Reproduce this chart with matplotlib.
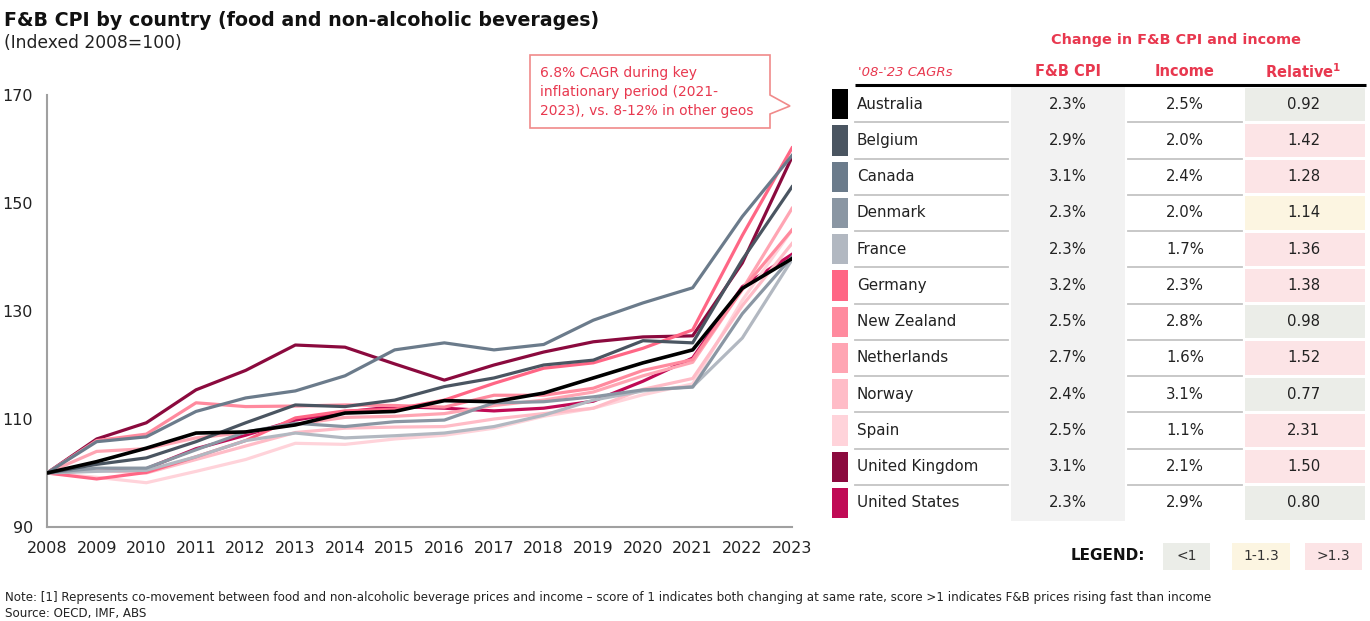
import matplotlib
matplotlib.use("Agg")
from matplotlib import pyplot as plt
from matplotlib.patches import Rectangle, Polygon

years = list(range(2008, 2024))

countries = ['Australia', 'Belgium', 'Canada', 'Denmark', 'France', 'Germany',
             'New Zealand', 'Netherlands', 'Norway', 'Spain', 'United Kingdom',
             'United States']
colors = ['#000000', '#4a5561', '#6b7b8b', '#8a96a3', '#b2b8c1', '#ff6685',
          '#ff8a9e', '#ffa5b3', '#ffbcc7', '#ffd3da', '#8b0a3e', '#c00a55']

# F&B CPI, indexed 2008 = 100
cpi = {
    'Australia':      [100, 102.1, 104.6, 107.4, 107.6, 108.9, 111.1, 111.4, 113.4, 113.2, 114.8, 117.6, 120.4, 122.8, 134.2, 139.7],
    'Belgium':        [100, 101.6, 102.8, 105.8, 109.3, 112.6, 112.3, 113.5, 116.0, 117.6, 120.0, 120.9, 124.5, 124.1, 139.5, 153.0],
    'Canada':         [100, 105.8, 106.7, 111.4, 113.9, 115.2, 118.0, 122.8, 124.1, 122.8, 123.8, 128.3, 131.5, 134.3, 147.5, 158.8],
    'Denmark':        [100, 100.9, 100.9, 104.3, 107.6, 109.2, 108.6, 109.5, 109.8, 113.0, 113.2, 114.1, 115.4, 115.9, 129.5, 140.0],
    'France':         [100, 100.3, 100.5, 103.0, 106.0, 107.4, 106.5, 106.9, 107.4, 108.6, 110.7, 113.5, 115.2, 116.0, 125.0, 139.5],
    'Germany':        [100, 98.9, 100.1, 103.0, 106.0, 110.2, 111.5, 111.8, 113.5, 116.6, 119.4, 120.4, 123.1, 126.5, 144.0, 160.2],
    'New Zealand':    [100, 106.0, 107.2, 113.0, 112.3, 112.4, 112.6, 112.5, 112.2, 114.4, 114.4, 115.7, 119.0, 121.0, 134.0, 145.0],
    'Netherlands':    [100, 104.0, 104.5, 106.5, 107.5, 109.0, 110.3, 110.5, 111.0, 112.5, 113.5, 115.0, 118.0, 120.5, 134.0, 149.0],
    'Norway':         [100, 100.5, 100.0, 102.5, 105.0, 107.5, 108.3, 108.5, 108.6, 110.0, 111.0, 112.0, 115.5, 117.5, 131.0, 142.5],
    'Spain':          [100, 99.2, 98.2, 100.3, 102.5, 105.5, 105.3, 106.3, 107.0, 108.3, 110.5, 112.0, 114.5, 116.5, 132.0, 145.0],
    'United Kingdom': [100, 106.3, 109.3, 115.4, 119.0, 123.7, 123.3, 120.2, 117.2, 120.0, 122.4, 124.3, 125.2, 125.4, 138.9, 158.5],
    'United States':  [100, 100.5, 100.8, 104.5, 107.0, 109.8, 111.3, 112.3, 112.0, 111.5, 112.0, 113.3, 117.0, 121.3, 134.5, 140.5],
}

# '08-'23 CAGRs
fb_cpi = [2.3, 2.9, 3.1, 2.3, 2.3, 3.2, 2.5, 2.7, 2.4, 2.5, 3.1, 2.3]
income = [2.5, 2.0, 2.4, 2.0, 1.7, 2.3, 2.8, 1.6, 3.1, 1.1, 2.1, 2.9]
relative = [0.92, 1.42, 1.28, 1.14, 1.36, 1.38, 0.98, 1.52, 0.77, 2.31, 1.50, 0.80]
rel_band = ['<1', '>1.3', '>1.3', '1-1.3', '>1.3', '>1.3', '<1', '>1.3', '<1', '>1.3', '>1.3', '<1']
band_labels = ['<1', '1-1.3', '>1.3']
band_colors = {'<1': '#ebede8', '1-1.3': '#fcf5e1', '>1.3': '#fce4e6'}

RED = '#e8384f'
W, H = 1370, 621

fig = plt.figure(figsize=(13.7, 6.21), dpi=100)

# line chart
ax = fig.add_axes([47 / W, 1 - 527 / H, (792 - 47) / W, (527 - 95) / H])
for i in reversed(range(len(countries))):
    c = countries[i]
    ax.plot(years, cpi[c], color=colors[i], lw=2.3 if c != 'Australia' else 2.6,
            solid_joinstyle='round', zorder=3 if c == 'Australia' else 2)
ax.set_xlim(2008, 2023)
ax.set_ylim(90, 170)
ax.set_xticks(years)
ax.set_yticks([90, 110, 130, 150, 170])
ax.tick_params(length=0, labelsize=11.5, colors='#222222')
ax.tick_params(axis='x', pad=10)
ax.tick_params(axis='y', pad=10)
for s in ['top', 'right']:
    ax.spines[s].set_visible(False)
for s in ['left', 'bottom']:
    ax.spines[s].set_color('#a0a0a0')
    ax.spines[s].set_linewidth(1.5)

# overlay in pixel units for titles, callout and table
ov = fig.add_axes([0, 0, 1, 1], zorder=5)
ov.set_xlim(0, W)
ov.set_ylim(H, 0)
ov.axis('off')
ov.patch.set_alpha(0)

ov.text(4, 20, 'F&B CPI by country (food and non-alcoholic beverages)',
        fontsize=13.7, fontweight='bold', va='center', ha='left', color='#111111')
ov.text(4, 43, '(Indexed 2008=100)', fontsize=12.3, va='center', ha='left', color='#222222')

callout = Polygon([(530, 55), (770, 55), (770, 95), (790, 106), (770, 114),
                   (770, 128), (530, 128)], closed=True, facecolor='white',
                  edgecolor='#f08a8a', lw=1.2)
ov.add_patch(callout)
for k, line in enumerate(['6.8% CAGR during key', 'inflationary period (2021-',
                          '2023), vs. 8-12% in other geos']):
    ov.text(540, 73 + k * 19, line, fontsize=10, color=RED, va='center', ha='left')

# table
name_x0, fb_x0, inc_x0, rel_x0, rel_x1 = 855, 1010, 1126, 1244, 1362
row_top, row_h = 86, 36.25

ov.text(1176, 40, 'Change in F&B CPI and income', fontsize=10.4, fontweight='bold',
        color=RED, ha='center', va='center')
ov.text(858, 72, "'08-'23 CAGRs", fontsize=9.5, style='italic', color=RED,
        ha='left', va='center')
ov.text((fb_x0 + inc_x0) / 2, 72, 'F&B CPI', fontsize=10.5, fontweight='bold',
        color=RED, ha='center', va='center')
ov.text((inc_x0 + rel_x0) / 2, 72, 'Income', fontsize=10.5, fontweight='bold',
        color=RED, ha='center', va='center')
ov.text((rel_x0 + rel_x1) / 2, 72, r'Relative$^{\mathbf{1}}$', fontsize=10.5,
        fontweight='bold', color=RED, ha='center', va='center')
ov.plot([name_x0, 1366], [85, 85], color='black', lw=2.2, solid_capstyle='butt')

ov.add_patch(Rectangle((fb_x0 + 1, row_top + 1), inc_x0 - fb_x0 - 2,
                       row_h * len(countries) - 1, facecolor='#f2f2f2', lw=0))
for i, c in enumerate(countries):
    y0 = row_top + i * row_h
    yc = y0 + row_h / 2
    ov.add_patch(Rectangle((832, y0 + 3), 16, row_h - 6, facecolor=colors[i], lw=0))
    ov.add_patch(Rectangle((rel_x0 + 1, y0 + 1.5), rel_x1 - rel_x0 + 2, row_h - 3,
                           facecolor=band_colors[rel_band[i]], lw=0))
    ov.text(857, yc, c, fontsize=10.9, color='#222222', ha='left', va='center')
    ov.text((fb_x0 + inc_x0) / 2, yc, f'{fb_cpi[i]:.1f}%', fontsize=10.7,
            color='#222222', ha='center', va='center')
    ov.text((inc_x0 + rel_x0) / 2, yc, f'{income[i]:.1f}%', fontsize=10.7,
            color='#222222', ha='center', va='center')
    ov.text((rel_x0 + rel_x1) / 2 + 1, yc, f'{relative[i]:.2f}', fontsize=10.7,
            color='#222222', ha='center', va='center')
    if i < len(countries) - 1:
        yb = y0 + row_h
        ov.plot([name_x0, fb_x0 - 2], [yb, yb], color='#c4c4c4', lw=1.3)
        ov.plot([inc_x0 + 2, rel_x0 - 2], [yb, yb], color='#c4c4c4', lw=1.3)

# band legend
ov.text(1145, 556, 'LEGEND:', fontsize=11, fontweight='bold', color='#111111',
        ha='right', va='center')
box_x = [1163, 1232, 1305]
box_w = [47, 58, 57]
for bx, bw, lab in zip(box_x, box_w, band_labels):
    ov.add_patch(Rectangle((bx, 543), bw, 27, facecolor=band_colors[lab], lw=0))
    ov.text(bx + bw / 2, 556, lab, fontsize=10, color='#333333', ha='center', va='center')

ov.text(5, 598, 'Note: [1] Represents co-movement between food and non-alcoholic beverage '
        'prices and income \u2013 score of 1 indicates both changing at same rate, score >1 '
        'indicates F&B prices rising fast than income',
        fontsize=8.6, color='#222222', ha='left', va='center')
ov.text(5, 613, 'Source: OECD, IMF, ABS', fontsize=8.6, color='#222222',
        ha='left', va='center')

fig.savefig('out.png', dpi=100)
